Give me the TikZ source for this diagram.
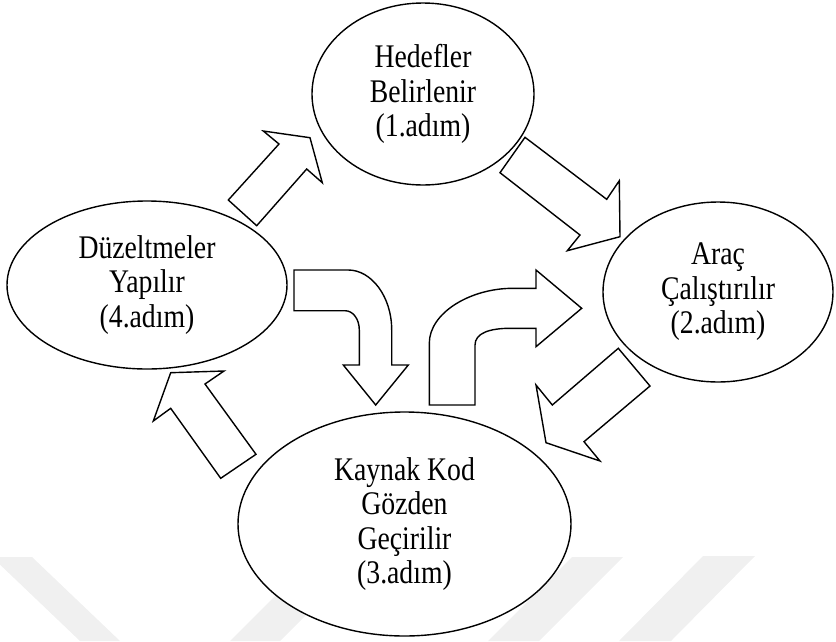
\documentclass[tikz,border=0pt]{standalone}
\usepackage{fontspec}
\setmainfont{Liberation Serif}
\newfontfamily\stagefont[FakeStretch=0.84]{Liberation Serif}
\usetikzlibrary{shapes.geometric}
\begin{document}
\begin{tikzpicture}[x=1pt,y=-1pt,
  stage/.style={ellipse,draw,line width=1.4pt,fill=white,inner sep=0pt,align=center,
    font=\stagefont\fontsize{33}{34.5}\selectfont},
  blockarrow/.style={draw,line width=1.4pt,fill=white,line join=miter},
  wmark/.style={fill=black!6,draw=none}]
\useasboundingbox (0,0) rectangle (836,641);
% faint watermark bands
\fill[wmark] (-8,557) -- (32,557) -- (120,641) -- (80,641) -- cycle;
\fill[wmark] (230,641) -- (280,641) -- (364,557) -- (314,557) -- cycle;
\fill[wmark] (572,557) -- (623,557) -- (539,641) -- (488,641) -- cycle;
\fill[wmark] (703,556) -- (755,556) -- (671,641) -- (619,641) -- cycle;
% stages
\node[stage,minimum width=222,minimum height=182] (s1) at (423,94) {Hedefler\\Belirlenir\\(1.adım)};
\node[stage,minimum width=230,minimum height=180] (s2) at (718,292) {Araç\\Çalıştırılır\\(2.adım)};
\node[stage,minimum width=333,minimum height=224] (s3) at (404.5,524) {Kaynak Kod\\Gözden\\Geçirilir\\(3.adım)};
\node[stage,minimum width=280,minimum height=168] (s4) at (147,285) {Düzeltmeler\\Yapılır\\(4.adım)};
% block arrows
% 4 -> 1
\draw[blockarrow] (228.3,200) -- (279,144) -- (263.3,131) -- (310,137.7) -- (322.3,182.7)
  -- (306.7,169) -- (256.7,225.7) -- cycle;
% 1 -> 2
\draw[blockarrow] (500,172.7) -- (525,137.3) -- (606.7,199.3) -- (619.3,180.7) -- (620,236.7)
  -- (567.3,250.7) -- (580,235) -- cycle;
% 2 -> 3
\draw[blockarrow] (618.3,348.3) -- (650,386) -- (584,441.7) -- (600,461) -- (546,442.7)
  -- (536,385) -- (552.3,405) -- cycle;
% 3 -> 4
\draw[blockarrow] (170.7,372.7) -- (224,371) -- (205,384) -- (256,454.3) -- (220.7,478.3)
  -- (170.7,408.3) -- (153.3,421) -- cycle;
% 4 -> 3 (bent)
\draw[blockarrow] (294,270) -- (348.3,270) .. controls (371,270) and (391.7,296) .. (391.7,330)
  -- (391.7,365) -- (408.3,365) -- (375.7,405) -- (343.3,365) -- (359.3,365) -- (359.3,330)
  .. controls (359.3,319) and (353,310.7) .. (345,310.7) -- (294,310.7) -- cycle;
% 3 -> 2 (bent)
\draw[blockarrow] (429.3,405) -- (429.3,343.3) .. controls (429.3,313) and (470,288.3) .. (513,288.3)
  -- (536,288.3) -- (536,270) -- (581.7,308.3) -- (536,346.7) -- (536,328.3) -- (510,328.3)
  .. controls (490,328.3) and (475,333) .. (475,345) -- (475,405) -- cycle;
\end{tikzpicture}
\end{document}
